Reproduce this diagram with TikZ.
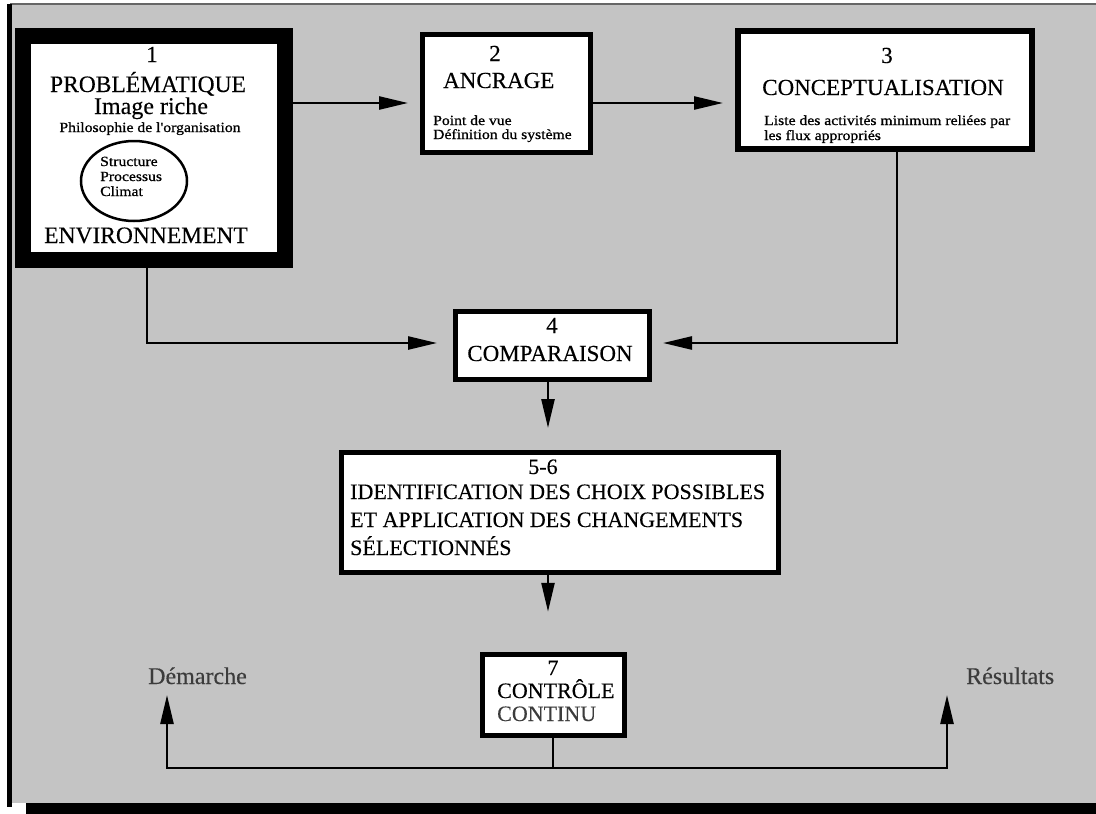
\documentclass[tikz,border=0pt]{standalone}
\usepackage{fontspec}
\setmainfont{Liberation Serif}[FakeBold=0.25]
\newfontfamily\notefont[FakeStretch=1.12,FakeBold=0.9]{Liberation Serif}
\usetikzlibrary{arrows.meta,shapes.geometric}
\definecolor{paper}{RGB}{196,196,196}
\definecolor{softink}{RGB}{60,60,60}
\begin{document}
\begin{tikzpicture}[x=1pt,y=-1pt,
  stagebox/.style={draw=black,fill=white,rectangle,inner sep=0pt},
  flow/.style={line width=2.5pt,-{Triangle[length=29pt,width=13pt]}},
  link/.style={line width=2.5pt},
  big/.style={font=\fontsize{23}{25}\selectfont,inner sep=0pt},
  mid/.style={font=\fontsize{22}{24}\selectfont,inner sep=0pt},
  note/.style={font=\notefont\fontsize{14}{15}\selectfont,inner sep=0pt},
]
\useasboundingbox (0,0) rectangle (1096,814);

% sheet and its frame
\fill[white] (0,0) rectangle (1096,814);
\fill[paper] (10,4) rectangle (1096,803);
\fill[black!60] (10,2.5) rectangle (1096,5);
\fill[black] (7,4) rectangle (12,807);
\fill[black] (26,803) rectangle (1096,814);

% stage boxes
\node[stagebox,line width=16pt,minimum width=262pt,minimum height=224pt] (b1) at (154,148) {};
\node[stagebox,line width=5pt,minimum width=168pt,minimum height=118pt] (b2) at (506.5,93.5) {};
\node[stagebox,line width=6pt,minimum width=294pt,minimum height=118pt] (b3) at (885,90) {};
\node[stagebox,line width=5pt,minimum width=194pt,minimum height=68pt] (b4) at (552.5,345.5) {};
\node[stagebox,line width=5pt,minimum width=437pt,minimum height=120pt] (b56) at (560,512.5) {};
\node[stagebox,line width=5.5pt,minimum width=142pt,minimum height=81pt] (b7) at (553.5,695) {};

% stage 1
\node[big,anchor=base] (n1) at (152,62) {1};
\node[font=\fontsize{23.5}{25}\selectfont,inner sep=0pt,anchor=base] (p1) at (148,92) {PROBLÉMATIQUE};
\node[font=\fontsize{24}{26}\selectfont,inner sep=0pt,anchor=base] (p2) at (151,114) {Image riche};
\node[note,anchor=base] (p3) at (150,132) {Philosophie de l'organisation};
\node[draw,ellipse,line width=2.5pt,minimum width=106pt,minimum height=80pt,inner sep=0pt] (cyc) at (134,181) {};
\node[note,anchor=base west] (s1) at (100,166) {Structure};
\node[note,anchor=base west] (s2) at (100,181) {Processus};
\node[note,anchor=base west] (s3) at (100,196) {Climat};
\node[font=\fontsize{23.5}{25}\selectfont,inner sep=0pt,anchor=base] (p4) at (146,243) {ENVIRONNEMENT};

% stage 2
\node[big,anchor=base] (n2) at (495,61) {2};
\node[big,anchor=base west] (a1) at (443,88) {ANCRAGE};
\node[note,anchor=base west] (a2) at (433,125) {Point de vue};
\node[note,anchor=base west] (a3) at (433,139) {Définition du système};

% stage 3
\node[big,anchor=base] (n3) at (887,63) {3};
\node[big,anchor=base] (c1) at (883,95) {CONCEPTUALISATION};
\node[note,anchor=base west] (c2) at (764,125) {Liste des activités minimum reliées par};
\node[note,anchor=base west] (c3) at (764,140) {les flux appropriés};

% stage 4
\node[big,anchor=base] (n4) at (552,333) {4};
\node[big,anchor=base] (m1) at (550,361) {COMPARAISON};

% stages 5-6
\node[mid,anchor=base] (n56) at (543,474) {5-6};
\node[mid,anchor=base west] (d1) at (350,499) {IDENTIFICATION DES CHOIX POSSIBLES};
\node[mid,anchor=base west] (d2) at (350,527) {ET APPLICATION DES CHANGEMENTS};
\node[mid,anchor=base west] (d3) at (350,555) {SÉLECTIONNÉS};

% stage 7
\node[mid,anchor=base] (n7) at (553,675) {7};
\node[mid,anchor=base west] (k1) at (497,698) {CONTRÔLE};
\node[mid,anchor=base west,text=softink] (k2) at (497,721) {CONTINU};

% outcomes
\node[font=\fontsize{24}{26}\selectfont,inner sep=0pt,anchor=base west,text=softink] (o1) at (148,684) {Démarche};
\node[font=\fontsize{24}{26}\selectfont,inner sep=0pt,anchor=base west,text=softink] (o2) at (966,684) {Résultats};

% routing points
\coordinate (row) at (0,103);
\coordinate (k1c) at (147,343);
\coordinate (k3c) at (897,343);
\coordinate (axis) at (548,0);
\coordinate (foot) at (553,768);
\coordinate (tipL) at (167,695);
\coordinate (tipR) at (947,695);

% connectors
\draw[flow,shorten >=12pt] (b1.east |- row) -- (b2.west |- row);
\draw[flow,shorten >=12pt] (b2.east |- row) -- (b3.west |- row);
\draw[flow,shorten >=16pt] (b1.south -| k1c) -- (k1c) -- (b4.west |- k1c);
\draw[flow,shorten >=11pt] (b3.south -| k3c) -- (k3c) -- (b4.east |- k3c);
\draw[flow,shorten >=22pt] (b4.south -| axis) -- (b56.north -| axis);
\draw[flow,shorten >=40pt] (b56.south -| axis) -- (b7.north -| axis);
\draw[link] (b7.south -| foot) -- (foot);
\draw[flow] (foot) -| (tipL);
\draw[flow] (foot) -| (tipR);
\end{tikzpicture}
\end{document}
